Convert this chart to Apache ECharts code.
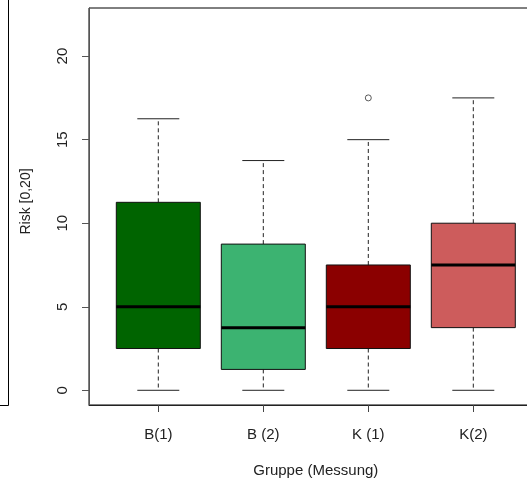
<!DOCTYPE html>
<html>
<head>
<meta charset="utf-8">
<script src="https://cdn.jsdelivr.net/npm/echarts@6/dist/echarts.min.js"></script>
<style>
  html, body { margin: 0; padding: 0; background: #fff; }
  #chart { width: 527px; height: 488px; }
</style>
</head>
<body>
<div id="chart"></div>
<script>
// Risk scores per group and measurement
const categories = ['B(1)', 'B (2)', 'K (1)', 'K(2)'];
const whiskerLow = [0, 0, 0, 0];
const q1 = [2.5, 1.25, 2.5, 3.75];
const medians = [5, 3.75, 5, 7.5];
const q3 = [11.25, 8.75, 7.5, 10];
const whiskerHigh = [16.25, 13.75, 15, 17.5];
const outliers = [[3, 17.5]];
const boxColors = ['#006400', '#3CB371', '#8B0000', '#CD5C5C'];
const yTicks = [0, 5, 10, 15, 20];
const xTicks = [1, 2, 3, 4];

const boxData = categories.map((c, i) => [i + 1, whiskerLow[i], q1[i], medians[i], q3[i], whiskerHigh[i]]);

const FONT = 'Liberation Sans, Arial, sans-serif';

function renderBox(params, api) {
  const x = api.value(0);
  const pLo = api.coord([x, api.value(1)]);
  const pQ1 = api.coord([x, api.value(2)]);
  const pMed = api.coord([x, api.value(3)]);
  const pQ3 = api.coord([x, api.value(4)]);
  const pHi = api.coord([x, api.value(5)]);
  const halfBox = api.size([0.8, 0])[0] / 2;
  const halfStaple = api.size([0.4, 0])[0] / 2;
  const cx = pMed[0];
  const dashed = { stroke: '#222', lineWidth: 1, lineDash: [4, 3] };
  const solid = { stroke: '#222', lineWidth: 1 };
  return {
    type: 'group',
    children: [
      { type: 'line', shape: { x1: cx, y1: pQ3[1], x2: cx, y2: pHi[1] }, style: dashed },
      { type: 'line', shape: { x1: cx, y1: pQ1[1], x2: cx, y2: pLo[1] }, style: dashed },
      { type: 'line', shape: { x1: cx - halfStaple, y1: pHi[1], x2: cx + halfStaple, y2: pHi[1] }, style: solid },
      { type: 'line', shape: { x1: cx - halfStaple, y1: pLo[1], x2: cx + halfStaple, y2: pLo[1] }, style: solid },
      {
        type: 'rect',
        shape: { x: cx - halfBox, y: pQ3[1], width: halfBox * 2, height: pQ1[1] - pQ3[1] },
        style: { fill: boxColors[params.dataIndex], stroke: '#111', lineWidth: 1 }
      },
      { type: 'line', shape: { x1: cx - halfBox, y1: pMed[1], x2: cx + halfBox, y2: pMed[1] }, style: { stroke: '#000', lineWidth: 3 } }
    ]
  };
}

const chart = echarts.init(document.getElementById('chart'), null, { renderer: 'canvas' });
chart.setOption({
  animation: false,
  backgroundColor: '#fff',
  grid: {
    left: 89, top: 8, width: 453.6, height: 397,
    show: true, borderColor: '#000', borderWidth: 1,
    containLabel: false, outerBoundsMode: 'none'
  },
  xAxis: {
    type: 'value', min: 0.34, max: 4.66,
    name: 'Gruppe (Messung)', nameLocation: 'middle', nameGap: 58,
    nameTextStyle: { fontFamily: FONT, fontSize: 15, color: '#222', verticalAlign: 'top' },
    axisLine: { show: true, onZero: false, lineStyle: { color: '#222', width: 1 } },
    axisTick: { show: true, customValues: xTicks, length: 7, lineStyle: { color: '#444' } },
    axisLabel: {
      customValues: xTicks, margin: 22,
      fontFamily: FONT, fontSize: 15, color: '#222',
      formatter: v => categories[Math.round(v) - 1]
    },
    splitLine: { show: false }
  },
  yAxis: {
    type: 'value', min: -0.88, max: 22.88,
    name: 'Risk [0,20]', nameLocation: 'middle', nameGap: 56, nameRotate: 90,
    nameTextStyle: { fontFamily: FONT, fontSize: 14, color: '#222', padding: [0, 0, 0, 10] },
    axisLine: { show: true, onZero: false, lineStyle: { color: '#555', width: 1 } },
    axisTick: { show: true, customValues: yTicks, length: 7, lineStyle: { color: '#555' } },
    axisLabel: {
      customValues: yTicks, margin: 19, rotate: 90,
      fontFamily: FONT, fontSize: 15, color: '#222'
    },
    splitLine: { show: false }
  },
  graphic: [
    {
      type: 'polyline',
      shape: { points: [[8.5, 0], [8.5, 405.5], [0, 405.5]] },
      style: { stroke: '#000', lineWidth: 1, fill: null }
    }
  ],
  series: [
    {
      type: 'custom',
      renderItem: renderBox,
      data: boxData,
      encode: { x: 0, y: [1, 2, 3, 4, 5] },
      clip: false
    },
    {
      type: 'scatter',
      data: outliers,
      symbol: 'circle',
      symbolSize: 6,
      itemStyle: { color: 'rgba(0,0,0,0)', borderColor: '#333', borderWidth: 1 }
    }
  ]
});
</script>
</body>
</html>
